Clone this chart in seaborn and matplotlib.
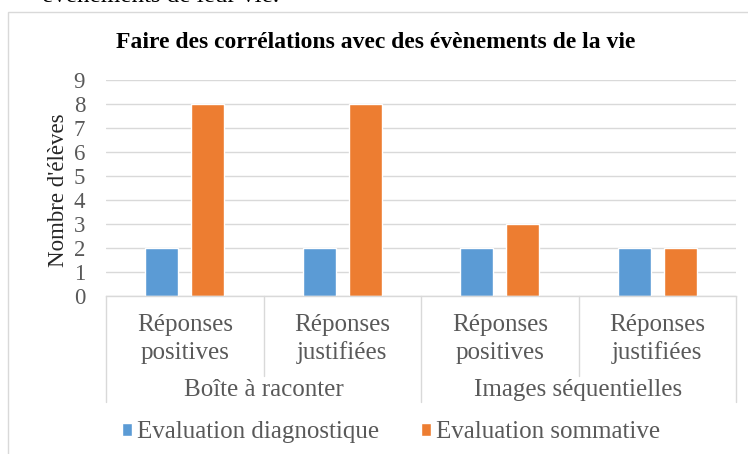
import matplotlib
matplotlib.use("Agg")
import matplotlib.pyplot as plt
from matplotlib.patches import Rectangle
from matplotlib.lines import Line2D
import seaborn as sns
import pandas as pd

# Data
groups = ["Boîte à raconter", "Boîte à raconter", "Images séquentielles", "Images séquentielles"]
subcats = ["Réponses\npositives", "Réponses\njustifiées", "Réponses\npositives", "Réponses\njustifiées"]
diagnostique = [2, 2, 2, 2]
sommative = [8, 8, 3, 2]
series = ["Evaluation diagnostique", "Evaluation sommative"]
colors = ["#5B9BD5", "#ED7D31"]
yticks = list(range(0, 10))

keys = [f"{g}|{s}" for g, s in zip(groups, subcats)]
df = pd.DataFrame({
    "cat": keys * 2,
    "val": diagnostique + sommative,
    "serie": [series[0]] * 4 + [series[1]] * 4,
})

sns.set_theme(style="white")
SERIF = ["Liberation Serif", "DejaVu Serif"]
plt.rcParams["font.family"] = SERIF

W, H = 748, 454
fig = plt.figure(figsize=(W / 100, H / 100), dpi=100)
ax = fig.add_axes([106 / W, 1 - 296 / H, (736 - 106) / W, (296 - 80) / H])

sns.barplot(data=df, x="cat", y="val", hue="serie", order=keys, hue_order=series,
            palette=colors, width=0.584, gap=0.28, saturation=1, ax=ax, legend=True)

ax.set_ylim(0, 9)
ax.set_xlim(-0.5, 3.5)
ax.set_yticks(yticks)
ax.set_yticklabels([str(t) for t in yticks], fontsize=16.5, color="#595959")
ax.tick_params(axis="y", length=0, pad=15)
ax.set_xticks([])
ax.set_xlabel("")
ax.set_ylabel("Nombre d'élèves", fontsize=16.5, color="#262626")
ax.yaxis.set_label_coords(-0.0585, 0.49)
ax.yaxis.grid(True, color="#d9d9d9", linewidth=1)
ax.set_axisbelow(True)
for side in ["top", "right", "left"]:
    ax.spines[side].set_visible(False)
ax.spines["bottom"].set_color("#d9d9d9")
ax.spines["bottom"].set_linewidth(1)

# Hierarchical category axis
trans = ax.get_xaxis_transform()
def fy(px):
    # pixel row -> axes y fraction
    return (296 - px) / (296 - 80)

for x in [-0.5, 1.5, 3.5]:
    ax.add_line(Line2D([x, x], [0, fy(402)], transform=trans, color="#d9d9d9",
                       linewidth=1, clip_on=False))
for x in [0.5, 2.5]:
    ax.add_line(Line2D([x, x], [0, fy(376)], transform=trans, color="#d9d9d9",
                       linewidth=1, clip_on=False))
for i, s in enumerate(subcats):
    ax.text(i, fy(339), s, transform=trans, ha="center", va="center",
            fontsize=18, color="#595959", linespacing=1.3, clip_on=False)
for i, g in enumerate(["Boîte à raconter", "Images séquentielles"]):
    ax.text(2 * i + 0.5, fy(390), g, transform=trans, ha="center", va="center",
            fontsize=18, color="#595959", clip_on=False)

# Legend
leg = ax.get_legend()
handles = leg.legend_handles
leg.remove()
fig.legend(handles, series, loc="center", bbox_to_anchor=(391 / W, 1 - 432 / H),
           ncol=2, frameon=False, prop={"family": SERIF, "size": 18},
           handlelength=0.42, handleheight=0.42, handletextpad=0.2,
           columnspacing=1.65, labelcolor="#595959")

# Title
fig.text(376 / W, 1 - 43 / H, "Faire des corrélations avec des évènements de la vie",
         ha="center", va="center", fontsize=17, fontweight="bold", color="#000000")

# Chart frame and the line of running text above it
fig.patches.append(Rectangle((8 / W, -0.1), 1.2, 1 - 12 / H + 0.1, transform=fig.transFigure,
                             fill=False, edgecolor="#d9d9d9", linewidth=1))
fig.text(42 / W, 1 - 2 / H, "évènements de leur vie.", ha="left", va="baseline",
         fontsize=18, color="#000000")

fig.savefig("out.png", dpi=100)
